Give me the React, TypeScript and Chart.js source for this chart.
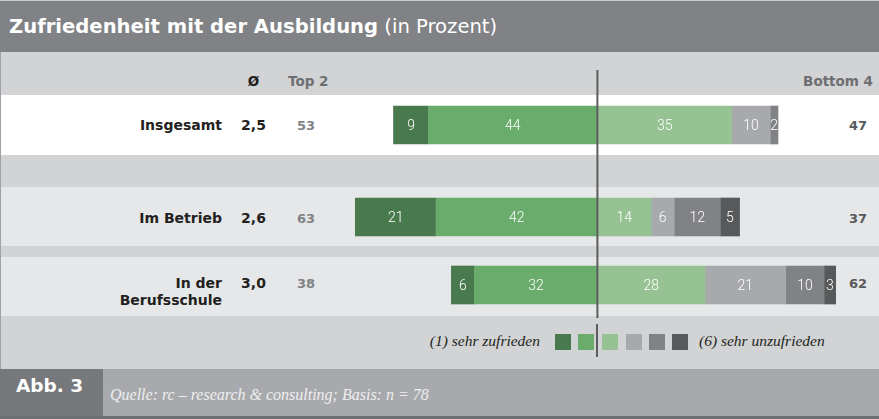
import React, { useEffect, useRef } from "react";
import { Chart, registerables } from "chart.js";

Chart.register(...registerables);

// ---------- data ----------
const categories = ["Insgesamt", "Im Betrieb", "In der Berufsschule"];
const averages = ["2,5", "2,6", "3,0"];
const top2 = [53, 63, 38];
const bottom4 = [47, 37, 62];
const level1 = [9, 21, 6]; // (1) sehr zufrieden
const level2 = [44, 42, 32];
const level3 = [35, 14, 28];
const level4 = [10, 6, 21];
const level5 = [2, 12, 10];
const level6 = [0, 5, 3]; // (6) sehr unzufrieden
const levelNames = ["(1) sehr zufrieden", "(2)", "(3)", "(4)", "(5)", "(6) sehr unzufrieden"];
const xMin = -80;
const xMax = 72.5;

// ---------- styles ----------
const levelColors = ["#487a4e", "#6aac6c", "#97c394", "#a7a9ac", "#808285", "#58595b"];
const levels = [level1, level2, level3, level4, level5, level6];
const SANS_BOLD = "'DejaVu Sans', 'Liberation Sans', sans-serif";
const SERIF = "'Liberation Serif', 'DejaVu Serif', serif";

// layout of each row chart canvas (pixels)
const rowCanvas = [
  { top: 70, height: 101, padTop: 15, padBottom: 6, center: 125 },
  { top: 171, height: 80, padTop: 14, padBottom: 2, center: 218 },
  { top: 251, height: 67, padTop: 3, padBottom: 2, center: 283 },
];

const zeroLinePlugin = {
  id: "zeroLine",
  afterDatasetsDraw(chart: any) {
    const x = chart.scales.x.getPixelForValue(0);
    const ctx = chart.ctx;
    ctx.save();
    ctx.strokeStyle = "#5c5d5f";
    ctx.lineWidth = 2;
    ctx.beginPath();
    ctx.moveTo(x, 0);
    ctx.lineTo(x, chart.height);
    ctx.stroke();
    ctx.restore();
  },
};

const segmentLabelPlugin = {
  id: "segmentLabels",
  afterDatasetsDraw(chart: any) {
    const ctx = chart.ctx;
    ctx.save();
    ctx.fillStyle = "#ffffff";
    ctx.font = "300 14px Roboto, 'Liberation Sans', sans-serif";
    ctx.textAlign = "center";
    ctx.textBaseline = "middle";
    chart.data.datasets.forEach((ds: any, i: number) => {
      const meta = chart.getDatasetMeta(i);
      const v = Math.abs(ds.data[0]);
      if (!v) return;
      const el: any = meta.data[0];
      const cx = (el.x + el.base) / 2;
      ctx.fillText(String(v), cx, el.y + 1);
    });
    ctx.restore();
  },
};

function RowChart({ index }: { index: number }) {
  const ref = useRef<HTMLCanvasElement>(null);
  const lay = rowCanvas[index];
  useEffect(() => {
    if (!ref.current) return;
    const order = [1, 0, 2, 3, 4, 5];
    const datasets = order.map((k) => ({
      label: levelNames[k],
      data: [k < 2 ? -levels[k][index] : levels[k][index]],
      backgroundColor: levelColors[k],
      borderWidth: 0,
      barThickness: 38,
      stack: "s",
    }));
    const chart = new Chart(ref.current, {
      type: "bar",
      data: { labels: [categories[index]], datasets },
      options: {
        indexAxis: "y",
        responsive: false,
        maintainAspectRatio: false,
        animation: false,
        layout: { padding: { left: 290, right: 3, top: lay.padTop, bottom: lay.padBottom } },
        scales: {
          x: { type: "linear", min: xMin, max: xMax, stacked: true, display: false },
          y: { stacked: true, display: false },
        },
        plugins: { legend: { display: false }, tooltip: { enabled: false } },
      },
      plugins: [zeroLinePlugin, segmentLabelPlugin],
    } as any);
    return () => chart.destroy();
  }, [index]);
  return (
    <canvas
      ref={ref}
      width={879}
      height={lay.height}
      style={{ position: "absolute", left: 0, top: lay.top, width: 879, height: lay.height }}
    />
  );
}

const abs = (s: React.CSSProperties): React.CSSProperties => ({ position: "absolute", ...s });

function CenterText({
  x, y, align, children, style,
}: { x: number; y: number; align: "left" | "right" | "center"; children: React.ReactNode; style?: React.CSSProperties }) {
  const tx = align === "left" ? "0" : align === "right" ? "-100%" : "-50%";
  return (
    <div
      style={abs({
        left: x,
        top: y,
        transform: `translate(${tx}, -50%)`,
        whiteSpace: "nowrap",
        textAlign: align,
        lineHeight: 1,
        ...style,
      })}
    >
      {children}
    </div>
  );
}

export default function App() {
  useEffect(() => {
    document.body.style.margin = "0";
  }, []);

  const rowBgs = [
    { top: 0, height: 52, bg: "#808285" },
    { top: 52, height: 43, bg: "#d1d3d4" },
    { top: 95, height: 60, bg: "#ffffff" },
    { top: 155, height: 32, bg: "#d1d3d4" },
    { top: 187, height: 59, bg: "#e6e7e8" },
    { top: 246, height: 11, bg: "#d1d3d4" },
    { top: 257, height: 59, bg: "#e6e7e8" },
    { top: 316, height: 53, bg: "#d1d3d4" },
    { top: 369, height: 47, bg: "#a7a9ac" },
    { top: 416, height: 3, bg: "#6d6e71" },
  ];
  const legendSquareX = [555, 578, 602, 626, 649, 672];

  return (
    <div style={abs({ left: 0, top: 0, width: 879, height: 419, overflow: "hidden", background: "#fff" })}>
      {rowBgs.map((r, i) => (
        <div key={i} style={abs({ left: 0, top: r.top, width: 879, height: r.height, background: r.bg })} />
      ))}
      <div style={abs({ left: 0, top: 0, width: 879, height: 1, background: "#c9cacc" })} />
      <div style={abs({ left: 0, top: 52, width: 1, height: 317, background: "#a0a1a4" })} />
      <div style={abs({ left: 0, top: 369, width: 103, height: 47, background: "#77787b" })} />

      {/* title */}
      <CenterText x={9} y={27} align="left" style={{ color: "#fff", fontFamily: SANS_BOLD, fontSize: 19.6 }}>
        <span style={{ fontWeight: 700 }}>Zufriedenheit mit der Ausbildung</span>
        <span style={{ fontWeight: 400 }}> (in Prozent)</span>
      </CenterText>

      {/* column headers */}
      <CenterText x={253.5} y={82} align="center" style={{ color: "#231f20", fontFamily: SANS_BOLD, fontWeight: 700, fontSize: 13.5 }}>
        Ø
      </CenterText>
      <CenterText x={288} y={82} align="left" style={{ color: "#6d6e71", fontFamily: SANS_BOLD, fontWeight: 700, fontSize: 13.5 }}>
        Top 2
      </CenterText>
      <CenterText x={873} y={82} align="right" style={{ color: "#6d6e71", fontFamily: SANS_BOLD, fontWeight: 700, fontSize: 13.5 }}>
        Bottom 4
      </CenterText>

      {/* row labels and values */}
      {categories.map((c, i) => {
        const y = rowCanvas[i].center;
        const twoLine = c.length > 14;
        return (
          <React.Fragment key={c}>
            <div
              style={abs({
                left: 92,
                width: 130,
                top: twoLine ? y + 8.5 : y,
                transform: "translateY(-50%)",
                textAlign: "right",
                fontFamily: SANS_BOLD,
                fontWeight: 700,
                fontSize: 14,
                lineHeight: "17px",
                color: "#231f20",
              })}
            >
              {twoLine ? (
                <>
                  {c.split(" ").slice(0, 2).join(" ")}
                  <br />
                  {c.split(" ").slice(2).join(" ")}
                </>
              ) : (
                c
              )}
            </div>
            <CenterText x={253.5} y={y} align="center" style={{ color: "#231f20", fontFamily: SANS_BOLD, fontWeight: 700, fontSize: 14 }}>
              {averages[i]}
            </CenterText>
            <CenterText x={306} y={y} align="center" style={{ color: "#808285", fontFamily: SANS_BOLD, fontWeight: 700, fontSize: 13 }}>
              {top2[i]}
            </CenterText>
            <CenterText x={867} y={y} align="right" style={{ color: "#58595b", fontFamily: SANS_BOLD, fontWeight: 700, fontSize: 13 }}>
              {bottom4[i]}
            </CenterText>
          </React.Fragment>
        );
      })}

      {/* charts */}
      {categories.map((c, i) => (
        <RowChart key={c} index={i} />
      ))}

      {/* legend */}
      <CenterText x={540} y={341} align="right" style={{ color: "#231f20", fontFamily: SERIF, fontStyle: "italic", fontSize: 15.5 }}>
        {levelNames[0]}
      </CenterText>
      {levelColors.map((col, i) => (
        <div key={col} style={abs({ left: legendSquareX[i], top: 334, width: 16, height: 16, background: col })} />
      ))}
      <div style={abs({ left: 596, top: 324, width: 2, height: 33, background: "#5c5d5f" })} />
      <CenterText x={699} y={341} align="left" style={{ color: "#231f20", fontFamily: SERIF, fontStyle: "italic", fontSize: 15.5 }}>
        {levelNames[5]}
      </CenterText>

      {/* footer */}
      <CenterText x={16} y={386} align="left" style={{ color: "#fff", fontFamily: SANS_BOLD, fontWeight: 700, fontSize: 18.5 }}>
        Abb. 3
      </CenterText>
      <CenterText x={110} y={395} align="left" style={{ color: "#eeeeef", fontFamily: SERIF, fontStyle: "italic", fontSize: 16 }}>
        Quelle: rc – research &amp; consulting; Basis: n = 78
      </CenterText>
    </div>
  );
}
